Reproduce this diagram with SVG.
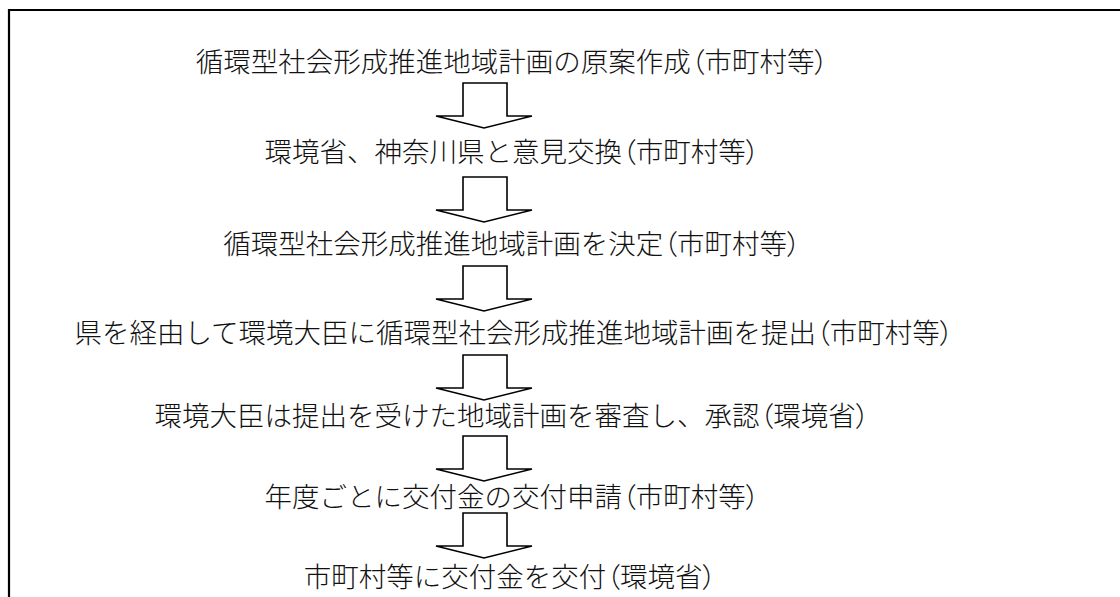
<svg xmlns="http://www.w3.org/2000/svg" width="1120" height="597" viewBox="0 0 1120 597">
<style>
.t{font-family:"Noto Sans CJK JP","Noto Sans CJK SC",sans-serif;font-size:27.5px;font-weight:300;fill:#111;text-anchor:middle}
.p{font-feature-settings:"palt" 1}
.a{fill:#fff;stroke:#000;stroke-width:1.6;stroke-linejoin:miter}
.frame{fill:none;stroke:#000;stroke-width:2.2}
</style>
<defs>
<path id="arr" class="a" d="M463,0 L507,0 L507,33 L532,33 L484,45 L436,33 L463,33 Z"/>
</defs>
<rect width="1120" height="597" fill="#fff"/>
<path class="frame" d="M9,597 L9,10 L1120,10"/>
<g id="connectors">
<use href="#arr" y="83"/>
<use href="#arr" y="177"/>
<use href="#arr" y="266"/>
<use href="#arr" y="355"/>
<use href="#arr" y="436"/>
<use href="#arr" y="513"/>
</g>
<g id="n1"><text class="t" x="512" y="72">循環型社会形成推進地域計画の原案作成<tspan class="p">（</tspan>市町村等<tspan class="p">）</tspan></text></g>
<g id="n2"><text class="t" x="512" y="162">環境省、神奈川県と意見交換<tspan class="p">（</tspan>市町村等<tspan class="p">）</tspan></text></g>
<g id="n3"><text class="t" x="512" y="254">循環型社会形成推進地域計画を決定<tspan class="p">（</tspan>市町村等<tspan class="p">）</tspan></text></g>
<g id="n4"><text class="t" x="514" y="343">県を経由して環境大臣に循環型社会形成推進地域計画を提出<tspan class="p">（</tspan>市町村等<tspan class="p">）</tspan></text></g>
<g id="n5"><text class="t" x="512" y="426">環境大臣は提出を受けた地域計画を審査し、承認<tspan class="p">（</tspan>環境省<tspan class="p">）</tspan></text></g>
<g id="n6"><text class="t" x="512" y="507">年度ごとに交付金の交付申請<tspan class="p">（</tspan>市町村等<tspan class="p">）</tspan></text></g>
<g id="n7"><text class="t" x="510" y="587">市町村等に交付金を交付<tspan class="p">（</tspan>環境省<tspan class="p">）</tspan></text></g>
</svg>
